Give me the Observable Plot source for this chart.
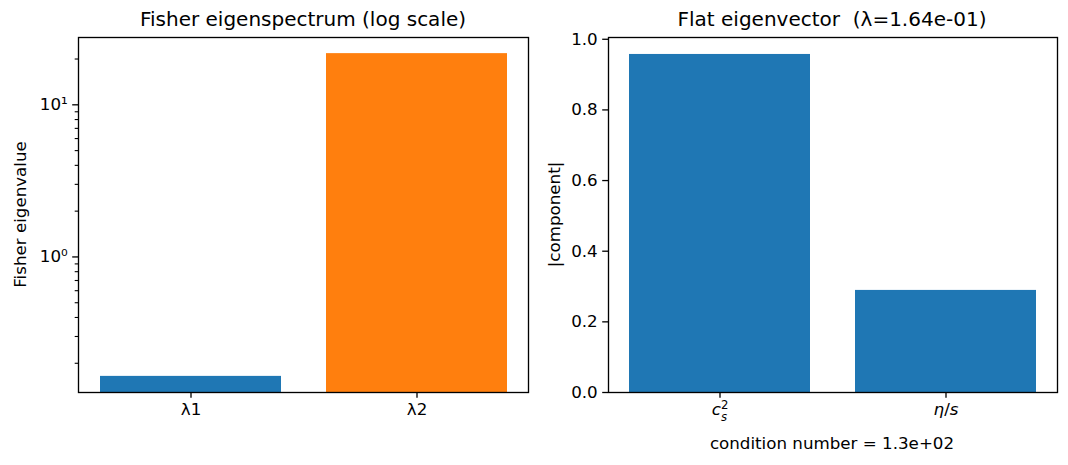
<!DOCTYPE html>
<html>
<head>
<meta charset="utf-8">
<script src="https://cdn.jsdelivr.net/npm/d3@7"></script>
<script src="https://cdn.jsdelivr.net/npm/@observablehq/plot@0.6"></script>
<style>
  html, body { margin: 0; padding: 0; background: white; }
  #wrap { position: relative; width: 1068px; height: 465px; background: white; font-family: "DejaVu Sans", sans-serif; }
  #wrap > svg { position: absolute; top: 0; }
  #overlay { position: absolute; left: 0; top: 0; pointer-events: none; }
</style>
</head>
<body>
<div id="wrap"></div>
<script>
// ---- data ----
const eigCategories = ["λ1", "λ2"];
const eigValues = [0.164, 21.7];
const eigColors = ["#1f77b4", "#ff7f0e"];
const eigDomain = [0.1285, 27.7];
const eigMajorTicks = [1, 10];
const eigMajorLabels = ["10⁰", "10¹"];
const eigMinorTicks = [0.2, 0.3, 0.4, 0.5, 0.6, 0.7, 0.8, 0.9, 2, 3, 4, 5, 6, 7, 8, 9, 20];

const vecCategories = ["c_s^2", "η/s"];
const vecValues = [0.957, 0.289];
const vecDomain = [0, 1.005];
const vecTicks = [0, 0.2, 0.4, 0.6, 0.8, 1.0];

const titleLeft = "Fisher eigenspectrum (log scale)";
const titleRight = "Flat eigenvector  (λ=1.64e-01)";
const yLabelLeft = "Fisher eigenvalue";
const yLabelRight = "|component|";
const xLabelRight = "condition number = 1.3e+02";

const eigData = eigCategories.map((c, i) => ({cat: c, value: eigValues[i], color: eigColors[i]}));
const vecData = vecCategories.map((c, i) => ({cat: c, value: vecValues[i]}));

const FONT = "DejaVu Sans, sans-serif";
const TICK_FS = "16.7px";
const TITLE_FS = "20px";
const style = {fontFamily: FONT, fontSize: TICK_FS, color: "black", background: "transparent", overflow: "visible"};

const wrap = document.getElementById("wrap");

// ---- left: log eigenspectrum ----
const left = Plot.plot({
  width: 540, height: 465,
  marginLeft: 78, marginRight: 12, marginTop: 37, marginBottom: 73,
  style,
  x: {type: "band", domain: eigCategories, paddingInner: 0.2, paddingOuter: 0.0925, label: null},
  y: {type: "log", domain: eigDomain, label: null},
  color: {type: "identity"},
  marks: [
    Plot.rectY(eigData, {x: "cat", y1: () => eigDomain[0], y2: "value", fill: "color"}),
    Plot.axisY({ticks: eigMinorTicks, tickFormat: () => "", tickSize: 3.3, strokeWidth: 1.1, label: null}),
    Plot.axisY({ticks: eigMajorTicks, tickFormat: d => eigMajorLabels[eigMajorTicks.indexOf(d)], tickSize: 5.8, tickPadding: 5, strokeWidth: 1.3, label: null, fill: "black"}),
    Plot.axisX({tickSize: 5.8, tickPadding: 5, strokeWidth: 1.3, label: null, fill: "black"}),
    Plot.frame({stroke: "black", strokeWidth: 1.33})
  ]
});
left.style.left = "0px";
wrap.appendChild(left);

// ---- right: flat eigenvector ----
const right = Plot.plot({
  width: 528, height: 465,
  marginLeft: 68, marginRight: 11, marginTop: 37, marginBottom: 73,
  style,
  x: {type: "band", domain: vecCategories, paddingInner: 0.2, paddingOuter: 0.0925, label: null},
  y: {domain: vecDomain, label: null},
  marks: [
    Plot.barY(vecData, {x: "cat", y: "value", fill: "#1f77b4"}),
    Plot.axisY({ticks: vecTicks, tickFormat: d3.format(".1f"), tickSize: 5.8, tickPadding: 5, strokeWidth: 1.3, label: null, fill: "black"}),
    Plot.axisX({tickSize: 5.8, tickPadding: 5, strokeWidth: 1.3, label: null, fill: "black", tickFormat: d => d}),
    Plot.frame({stroke: "black", strokeWidth: 1.33})
  ]
});
right.style.left = "540px";
wrap.appendChild(right);

// Render math-style tick labels on the right x axis
d3.select(right).selectAll("text").each(function() {
  const t = d3.select(this);
  const s = t.text();
  if (s === "c_s^2") {
    t.text("");
    t.append("tspan").attr("font-style", "italic").text("c");
    t.append("tspan").attr("font-size", "11.7px").attr("dy", "-0.5em").text("2");
    t.append("tspan").attr("font-size", "11.7px").attr("dx", "-7.4px").attr("dy", "1.0em").attr("font-style", "italic").text("s");
  } else if (s === "η/s") {
    t.text("");
    t.append("tspan").attr("font-style", "italic").text("η");
    t.append("tspan").text("/");
    t.append("tspan").attr("font-style", "italic").text("s");
  }
});

// ---- overlay: titles and axis labels ----
const ov = d3.select(wrap).append("svg").attr("id", "overlay")
  .attr("width", 1068).attr("height", 465)
  .style("font-family", FONT);
ov.append("text").attr("x", 303).attr("y", 26).attr("text-anchor", "middle")
  .attr("font-size", TITLE_FS).style("white-space", "pre").text(titleLeft);
ov.append("text").attr("x", 832).attr("y", 26).attr("text-anchor", "middle")
  .attr("font-size", TITLE_FS).style("white-space", "pre").text(titleRight);
ov.append("text").attr("transform", "translate(25.5,214.5) rotate(-90)").attr("text-anchor", "middle")
  .attr("font-size", TICK_FS).text(yLabelLeft);
ov.append("text").attr("transform", "translate(559.5,214.5) rotate(-90)").attr("text-anchor", "middle")
  .attr("font-size", TICK_FS).text(yLabelRight);
ov.append("text").attr("x", 832).attr("y", 449).attr("text-anchor", "middle")
  .attr("font-size", TICK_FS).text(xLabelRight);
</script>
</body>
</html>
